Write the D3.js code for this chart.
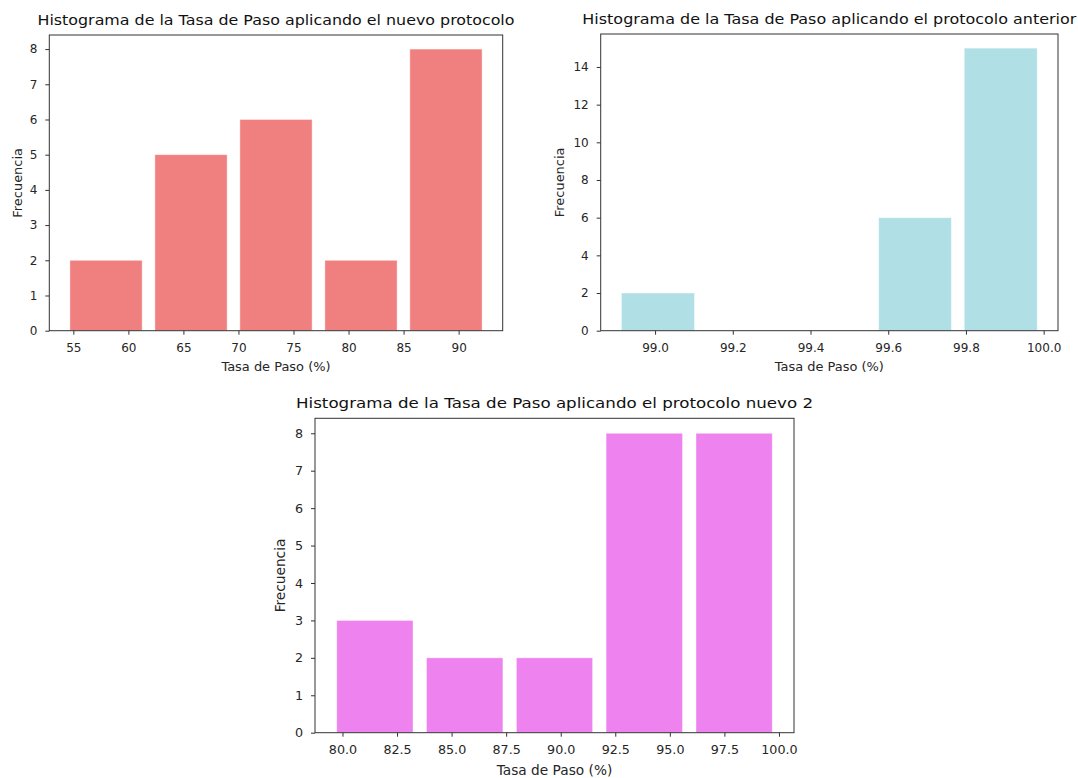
<!DOCTYPE html>
<html>
<head>
<meta charset="utf-8">
<script src="https://cdn.jsdelivr.net/npm/d3@7"></script>
<style>
  body { margin: 0; background: #fff; }
  svg { display: block; font-family: "DejaVu Sans", sans-serif; }
  .tick text { fill: #262626; }
</style>
</head>
<body>
<svg id="fig" width="1078" height="778"></svg>
<script>
// bin edges and counts
const binsNuevo = [54.11, 61.83, 69.55, 77.27, 84.99, 92.71];
const countsNuevo = [2, 5, 6, 2, 8];
const xTicksNuevo = [55, 60, 65, 70, 75, 80, 85, 90];
const yTicksNuevo = [0, 1, 2, 3, 4, 5, 6, 7, 8];

const binsAnterior = [98.897, 99.118, 99.338, 99.559, 99.779, 100.0];
const countsAnterior = [2, 0, 0, 6, 15];
const xTicksAnterior = [99.0, 99.2, 99.4, 99.6, 99.8, 100.0];
const yTicksAnterior = [0, 2, 4, 6, 8, 10, 12, 14];

const binsNuevo2 = [79.43, 83.54, 87.66, 91.77, 95.89, 100.0];
const countsNuevo2 = [3, 2, 2, 8, 8];
const xTicksNuevo2 = [80, 82.5, 85, 87.5, 90, 92.5, 95, 97.5, 100];
const yTicksNuevo2 = [0, 1, 2, 3, 4, 5, 6, 7, 8];

const svg = d3.select("#fig");

function drawHist(opts) {
    const { box, bins, counts, color, xTicks, yTicks, xFmt, title, titleLen, fs, ylabOff } = opts;
    const rwidth = 0.85;
    const labFs = fs * 1.08;

    const bars = counts.map((c, i) => {
        const w = bins[i + 1] - bins[i];
        return { x0: bins[i] + w * (1 - rwidth) / 2, x1: bins[i + 1] - w * (1 - rwidth) / 2, n: c };
    });

    // matplotlib-like 5% margins around the bar extents
    const lo = d3.min(bars, d => d.x0), hi = d3.max(bars, d => d.x1);
    const pad = (hi - lo) * 0.05;
    const x = d3.scaleLinear().domain([lo - pad, hi + pad]).range([box.left, box.right]);
    const ymax = d3.max(counts) * 1.05;
    const y = d3.scaleLinear().domain([0, ymax]).range([box.bottom, box.top]);

    const g = svg.append("g");

    g.selectAll("rect.bar")
        .data(bars)
        .join("rect")
        .attr("class", "bar")
        .attr("x", d => x(d.x0))
        .attr("width", d => x(d.x1) - x(d.x0))
        .attr("y", d => y(d.n))
        .attr("height", d => y(0) - y(d.n))
        .attr("fill", color)
        .attr("stroke", "#fff")
        .attr("stroke-opacity", 0.5)
        .attr("stroke-width", 0.8);

    const xAxis = g.append("g")
        .attr("transform", `translate(0,${box.bottom})`)
        .call(d3.axisBottom(x).tickValues(xTicks).tickFormat(xFmt).tickSize(4).tickPadding(8.5));
    const yAxis = g.append("g")
        .attr("transform", `translate(${box.left},0)`)
        .call(d3.axisLeft(y).tickValues(yTicks).tickFormat(d3.format("d")).tickSize(4).tickPadding(8));

    [xAxis, yAxis].forEach(a => {
        a.select(".domain").remove();
        a.selectAll(".tick line").attr("stroke", "#333");
        a.selectAll(".tick text").attr("font-size", fs + "px").attr("font-family", "DejaVu Sans");
    });

    // spines
    g.append("rect")
        .attr("x", box.left)
        .attr("y", box.top)
        .attr("width", box.right - box.left)
        .attr("height", box.bottom - box.top)
        .attr("fill", "none")
        .attr("stroke", "#333")
        .attr("stroke-width", 1);

    // title
    g.append("text")
        .attr("x", (box.left + box.right) / 2)
        .attr("y", box.top - 10)
        .attr("text-anchor", "middle")
        .attr("font-size", (fs * 1.17) + "px")
        .attr("fill", "#111")
        .attr("textLength", titleLen)
        .attr("lengthAdjust", "spacingAndGlyphs")
        .text(title);

    // axis labels
    g.append("text")
        .attr("x", (box.left + box.right) / 2)
        .attr("y", box.bottom + 40 * fs / 12)
        .attr("text-anchor", "middle")
        .attr("font-size", labFs + "px")
        .attr("fill", "#262626")
        .text("Tasa de Paso (%)");

    g.append("text")
        .attr("transform", `translate(${box.left - ylabOff},${(box.top + box.bottom) / 2}) rotate(-90)`)
        .attr("text-anchor", "middle")
        .attr("dy", "0.35em")
        .attr("font-size", labFs + "px")
        .attr("fill", "#262626")
        .text("Frecuencia");
}

drawHist({
    box: { left: 49.3, right: 502.7, top: 35, bottom: 330.7 },
    bins: binsNuevo, counts: countsNuevo, color: "#F08080",
    xTicks: xTicksNuevo, yTicks: yTicksNuevo, xFmt: d3.format("d"),
    title: "Histograma de la Tasa de Paso aplicando el nuevo protocolo",
    titleLen: 477, fs: 12, ylabOff: 32
});

drawHist({
    box: { left: 600.7, right: 1058, top: 34, bottom: 330.7 },
    bins: binsAnterior, counts: countsAnterior, color: "#B0E0E6",
    xTicks: xTicksAnterior, yTicks: yTicksAnterior, xFmt: d3.format(".1f"),
    title: "Histograma de la Tasa de Paso aplicando el protocolo anterior",
    titleLen: 494, fs: 12, ylabOff: 41
});

drawHist({
    box: { left: 315, right: 794, top: 418.3, bottom: 732.7 },
    bins: binsNuevo2, counts: countsNuevo2, color: "#EE82EE",
    xTicks: xTicksNuevo2, yTicks: yTicksNuevo2, xFmt: d3.format(".1f"),
    title: "Histograma de la Tasa de Paso aplicando el protocolo nuevo 2",
    titleLen: 517, fs: 12.7, ylabOff: 34.5
});
</script>
</body>
</html>
